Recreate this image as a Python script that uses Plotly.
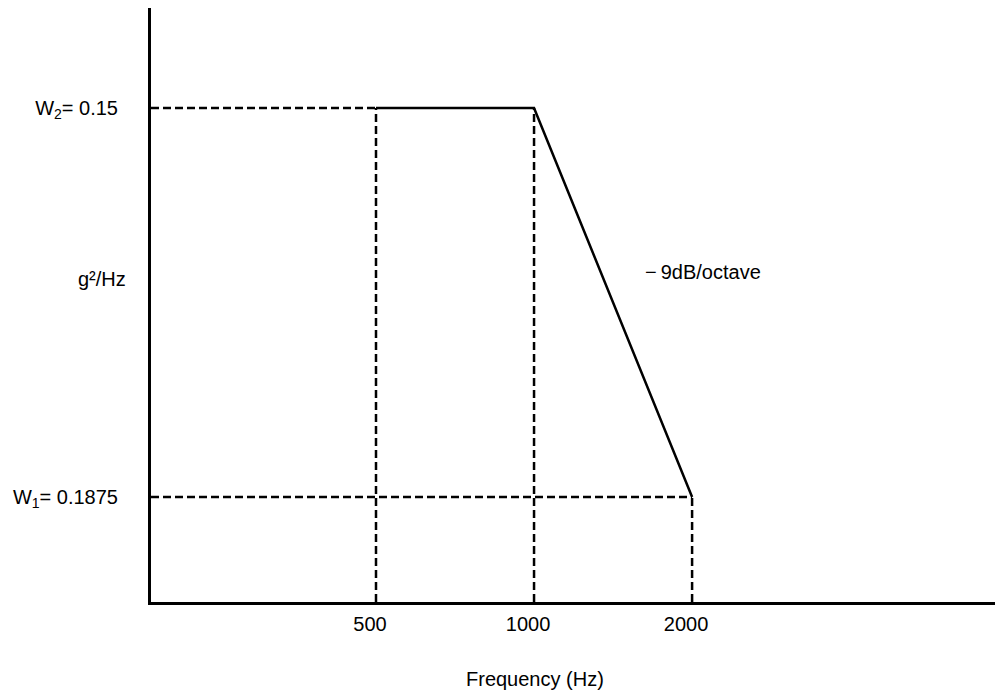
import plotly.graph_objects as go

# Data
freq = [500, 1000, 2000]                 # Hz breakpoints
psd_rel = [1.0, 1.0, 10 ** (-0.9)]       # relative level (-9 dB/octave from 1000 to 2000 Hz)
x_ticks = [500, 1000, 2000]
x_tick_labels = ["500", "1000", "2000"]
y_ticks = [1.0, 10 ** (-0.9)]
y_tick_labels = ["W<sub>2</sub>= 0.15", "W<sub>1</sub>= 0.1875"]

FONT = "Liberation Sans, Arial, sans-serif"
FS = 20
x_min, y_min = 10 ** 2.2704, 10 ** (-1.143)

fig = go.Figure()

dash = dict(color="black", width=2.5, dash="8px,4px")
# horizontal reference (dashed) lines
fig.add_trace(go.Scatter(x=[x_min, freq[0]], y=[psd_rel[0], psd_rel[0]], mode="lines", line=dash, hoverinfo="skip"))
fig.add_trace(go.Scatter(x=[x_min, freq[2]], y=[psd_rel[2], psd_rel[2]], mode="lines", line=dash, hoverinfo="skip"))
# vertical reference (dashed) lines
for f, p in zip(freq, psd_rel):
    fig.add_trace(go.Scatter(x=[f, f], y=[y_min, p], mode="lines", line=dash, hoverinfo="skip"))

# profile
fig.add_trace(go.Scatter(x=freq, y=psd_rel, mode="lines", line=dict(color="black", width=2.5)))

fig.add_annotation(xref="paper", yref="paper", x=-0.058, y=0.543, text="g²/Hz",
                   showarrow=False, xanchor="center", yanchor="middle",
                   font=dict(family=FONT, size=FS, color="black"))
fig.add_annotation(xref="paper", yref="paper", x=0.583, y=0.555, text="−\u20099dB/octave",
                   showarrow=False, xanchor="left", yanchor="middle",
                   font=dict(family=FONT, size=FS, color="black"))
fig.add_annotation(xref="paper", yref="paper", x=0.455, y=-0.13, text="Frequency (Hz)",
                   showarrow=False, xanchor="center", yanchor="middle",
                   font=dict(family=FONT, size=FS, color="black"))

fig.update_layout(
    width=995, height=692,
    margin=dict(l=151, r=0, t=8, b=90, autoexpand=False),
    plot_bgcolor="white", paper_bgcolor="white",
    showlegend=False,
    font=dict(family=FONT, size=FS, color="black"),
    xaxis=dict(type="log", range=[2.2704, 3.878], showgrid=False, zeroline=False,
               showline=True, linecolor="black", linewidth=3, automargin=False,
               tickvals=x_ticks, ticktext=x_tick_labels, ticks="",
               ticklabelstandoff=2, ticklabelshift=-6),
    yaxis=dict(type="log", range=[-1.143, 0.2314], showgrid=False, zeroline=False,
               showline=True, linecolor="black", linewidth=3, automargin=False,
               tickvals=y_ticks, ticktext=y_tick_labels, ticks="",
               ticklabelstandoff=26),
)

fig.write_html("out.html")
